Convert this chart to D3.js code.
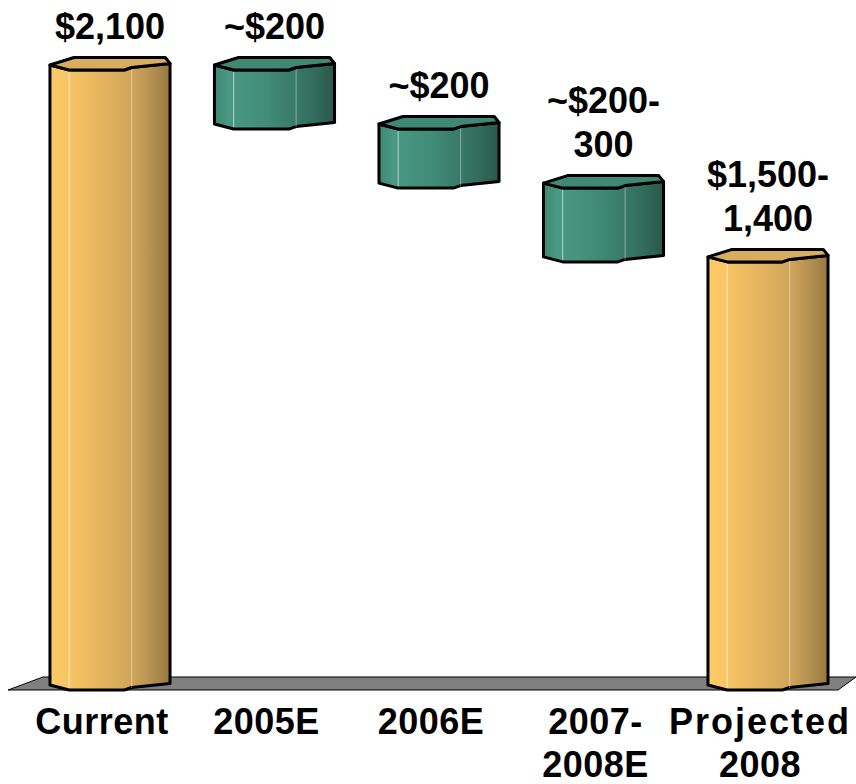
<!DOCTYPE html>
<html>
<head>
<meta charset="utf-8">
<script src="https://cdn.jsdelivr.net/npm/d3@7"></script>
<style>
  html, body { margin: 0; padding: 0; background: #ffffff; }
  svg { display: block; }
  text { font-family: "Liberation Sans", Arial, sans-serif; font-weight: bold; fill: #000; }
</style>
</head>
<body>
<svg id="chart" width="856" height="784"></svg>
<script>
// Waterfall steps: starting total, yearly reductions, projected total
const categories = ["Current", "2005E", "2006E", "2007-2008E", "Projected 2008"];
const amounts = [2100, -200, -200, -250, 1450];
const kinds = ["total", "delta", "delta", "delta", "total"];
const valueLabels = [["$2,100"], ["~$200"], ["~$200"], ["~$200-", "300"], ["$1,500-", "1,400"]];
const categoryLabels = [["Current"], ["2005E"], ["2006E"], ["2007-", "2008E"], ["Projected", "2008"]];

const svg = d3.select("#chart");
const defs = svg.append("defs");

const x = d3.scaleBand()
  .domain(categories)
  .range([27.75, 850.25])
  .paddingInner(0.27)
  .paddingOuter(0.135);

const y = d3.scaleLinear()
  .domain([0, 2100])
  .range([690, 70]);

// Running totals turn amounts into floating segments
let running = 0;
const bars = categories.map((c, i) => {
  let lo, hi;
  if (kinds[i] === "total") {
    lo = 0; hi = amounts[i]; running = amounts[i];
  } else {
    hi = running; lo = running + amounts[i]; running = lo;
  }
  return { category: c, lo, hi, kind: kinds[i], value: valueLabels[i], label: categoryLabels[i] };
});

// Shading across the prism faces
function gradient(id, stops) {
  const g = defs.append("linearGradient").attr("id", id)
    .attr("x1", "0").attr("x2", "1").attr("y1", "0").attr("y2", "0");
  stops.forEach(([o, c]) => g.append("stop").attr("offset", o).attr("stop-color", c));
}
gradient("gold", [[0, "#fdca66"], [0.15, "#f7c565"], [0.45, "#e2b45f"], [0.7, "#cfa45a"], [0.85, "#b39050"], [1, "#977740"]]);
gradient("green", [[0, "#3c8873"], [0.12, "#4a9984"], [0.45, "#418b77"], [0.7, "#387867"], [0.85, "#316a5a"], [1, "#2a5749"]]);
const topFill = { total: "#d8ad5d", delta: "#3f8873" };
const bodyFill = { total: "url(#gold)", delta: "url(#green)" };

// Floor slab under the bars
const depth = 13, slant = 35;
const floorY = y(0);
svg.append("polygon")
  .attr("points", [
    [8, floorY], [8 + slant, floorY - depth], [856, floorY - depth], [856 - 18, floorY]
  ].map(p => p.join(",")).join(" "))
  .attr("fill", "#808080")
  .attr("stroke", "#000")
  .attr("stroke-width", 1);

// Outline of an octagonal prism: front silhouette offsets (fraction of width, dy)
const frontChain = [[0, -5], [0.16, 0], [0.62, 0], [0.68, -2.5], [1, -6.5]];
const backChain = [[1, -6.5], [0.96, -12.5], [0.2, -12.5], [0, -5]];

const g = svg.append("g");
bars.forEach(b => {
  const x0 = x(b.category), w = x.bandwidth();
  const yT = y(b.hi), yB = y(b.lo);
  const pt = (f, dy, base) => [x0 + f * w, base + dy];

  const body = frontChain.map(([f, dy]) => pt(f, dy, yT))
    .concat(frontChain.slice().reverse().map(([f, dy]) => pt(f, dy, yB)));
  g.append("polygon")
    .attr("points", body.map(p => p.join(",")).join(" "))
    .attr("fill", bodyFill[b.kind])
    .attr("stroke", "#000")
    .attr("stroke-width", 3)
    .attr("stroke-linejoin", "round");

  // edge highlights between faces
  [[0.16, 0.6], [0.68, 0.4]].forEach(([f, a]) => {
    g.append("line")
      .attr("x1", x0 + f * w).attr("x2", x0 + f * w)
      .attr("y1", yT + (f === 0.16 ? 1.5 : -1)).attr("y2", yB - 2)
      .attr("stroke", `rgba(255,255,255,${a})`)
      .attr("stroke-width", 1);
  });

  const top = frontChain.map(([f, dy]) => pt(f, dy, yT))
    .concat(backChain.slice(1, -1).map(([f, dy]) => pt(f, dy, yT)));
  g.append("polygon")
    .attr("points", top.map(p => p.join(",")).join(" "))
    .attr("fill", topFill[b.kind])
    .attr("stroke", "#000")
    .attr("stroke-width", 3)
    .attr("stroke-linejoin", "round");

  // value label above the top face
  const cx = x0 + w / 2;
  const lines = b.value;
  const lineGap = 44;
  const lastBase = yT - 13 - 18;
  lines.forEach((t, k) => {
    svg.append("text")
      .attr("x", cx)
      .attr("y", lastBase - (lines.length - 1 - k) * lineGap)
      .attr("text-anchor", "middle")
      .attr("font-size", 36)
      .text(t);
  });

  // category label under the floor
  b.label.forEach((t, k) => {
    svg.append("text")
      .attr("x", cx - 8)
      .attr("y", 734 + k * 43)
      .attr("text-anchor", "middle")
      .attr("font-size", 36)
      .attr("letter-spacing", t === "Projected" ? 2 : 0.5)
      .text(t);
  });
});
</script>
</body>
</html>
